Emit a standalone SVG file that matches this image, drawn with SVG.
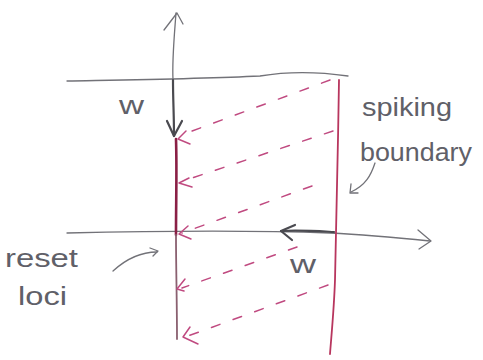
<svg xmlns="http://www.w3.org/2000/svg" width="483" height="360" viewBox="0 0 483 360">
<defs>
<style>
.pencil{fill:none;stroke:#727278;stroke-width:1.3;stroke-linecap:round;stroke-linejoin:round}
.dark{fill:none;stroke:#4a4a50;stroke-width:2.2;stroke-linecap:round;stroke-linejoin:round}
.dash{fill:none;stroke:#c04a80;stroke-width:1.5;stroke-dasharray:9 14;stroke-linecap:round}
.head{fill:none;stroke:#c04a80;stroke-width:1.5;stroke-linecap:round;stroke-linejoin:round}
.lbl{font-family:"Liberation Sans",Arial,sans-serif;fill:#606068;font-size:26px}
</style>
</defs>
<rect width="483" height="360" fill="#ffffff"/>
<g id="axes">
<path class="pencil" d="M67,81 C120,80 200,79 260,76 C290,71 320,72 348,76"/>
<path class="pencil" d="M67,233 C150,231 250,230 330,233 C370,235 400,238 430,241"/>
<path class="pencil" d="M418,230 L431,241 L419,249"/>
<path class="pencil" d="M176,13 C174,40 172,60 173,80"/>
<path class="pencil" stroke-width="1.8" d="M164,30 L177,13 L183,24"/>
</g>
<g id="boundary-lines">
<path fill="none" stroke="#8a1f45" stroke-width="2.6" stroke-linecap="round" d="M176,139 C177,170 176,200 176,235"/>
<path fill="none" stroke="#8a6070" stroke-width="1.8" stroke-linecap="round" d="M176,235 C176,270 177,300 177,339"/>
<path fill="none" stroke="#b8365e" stroke-width="1.8" stroke-linecap="round" d="M339,80 C338,150 336,230 335,280 C334,310 331,340 330,354"/>
</g>
<g id="connectors">
<path class="dark" d="M173,80 C173,100 174,115 174,136"/>
<path class="dark" d="M167,121 L174,136 L182,121"/>
<path class="dash" d="M330,80 L184,134"/>
<path class="head" d="M186,131 L178,139 L190,144"/>
<path class="dash" d="M333,131 L186,180"/>
<path class="head" d="M189,178 L179,183 L192,187"/>
<path class="dash" d="M312,186 L182,233"/>
<path class="head" d="M188,226 L179,234 L191,239"/>
<path class="dash" d="M297,247 L182,288"/>
<path class="head" d="M185,279 L177,289 L184,291"/>
<path class="dash" d="M328,285 L188,336"/>
<path class="head" d="M190,327 L183,337 L198,344"/>
<path class="dark" d="M334,232 C315,231 300,230 281,231"/>
<path class="dark" d="M295,225 L281,231 L292,240"/>
<path class="pencil" d="M375,163 C371,175 366,185 351,192"/>
<path class="pencil" d="M351,184 L350,193 L358,193"/>
<path class="pencil" d="M113,271 C125,260 140,252 157,252"/>
<path class="pencil" d="M150,248 L158,251 L153,256"/>
</g>
<g id="labels">
<text class="lbl" x="119" y="114" textLength="25" lengthAdjust="spacingAndGlyphs">w</text>
<text class="lbl" x="290" y="273" textLength="26" lengthAdjust="spacingAndGlyphs">w</text>
<text class="lbl" x="362" y="116" textLength="90" lengthAdjust="spacingAndGlyphs">spiking</text>
<text class="lbl" x="360" y="161" textLength="112" lengthAdjust="spacingAndGlyphs">boundary</text>
<text class="lbl" x="5" y="267" font-size="28" textLength="73" lengthAdjust="spacingAndGlyphs">reset</text>
<text class="lbl" x="18" y="305" font-size="28" textLength="49" lengthAdjust="spacingAndGlyphs">loci</text>
</g>
</svg>
